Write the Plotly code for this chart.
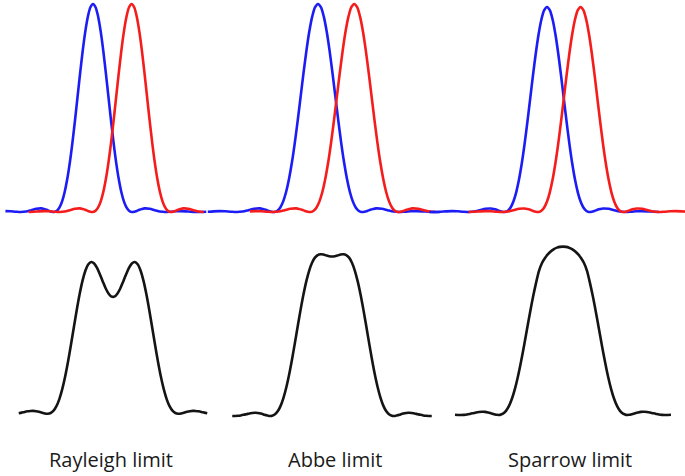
import plotly.graph_objects as go

# ---------------- data ----------------
# Single diffraction peak: relative intensity vs. offset from its centre (optical units)
PEAK_OFFSET = [-11.0, -10.5, -10.0, -9.5, -9.0, -8.5, -8.0, -7.5, -7.0, -6.5, -6.0, -5.5,
               -5.0, -4.75, -4.5, -4.25, -4.0, -3.75, -3.5, -3.25, -3.0, -2.75, -2.5, -2.25,
               -2.0, -1.75, -1.5, -1.25, -1.0, -0.75, -0.5, -0.25, 0.0,
               0.25, 0.5, 0.75, 1.0, 1.25, 1.5, 1.75, 2.0, 2.25, 2.5, 2.75, 3.0,
               3.25, 3.5, 3.75, 4.0, 4.25, 4.5, 4.75, 5.0, 5.5, 6.0, 6.5, 7.0,
               7.5, 8.0, 8.5, 9.0, 9.5, 10.0, 10.5, 11.0]
PEAK_INTENSITY = [0.0010, 0.0002, 0.0001, 0.0012, 0.0030, 0.0041, 0.0034, 0.0013, 0.0000, 0.0022, 0.0085, 0.0154,
                  0.0172, 0.0146, 0.0105, 0.0052, 0.0011, 0.0003, 0.0062, 0.0220, 0.0511, 0.0960, 0.1582, 0.2376,
                  0.3326, 0.4396, 0.5534, 0.6675, 0.7746, 0.8674, 0.9391, 0.9845, 1.0000,
                  0.9845, 0.9391, 0.8674, 0.7746, 0.6675, 0.5534, 0.4396, 0.3326, 0.2376, 0.1582, 0.0960, 0.0511,
                  0.0220, 0.0062, 0.0003, 0.0011, 0.0052, 0.0105, 0.0146, 0.0172, 0.0154, 0.0085, 0.0022, 0.0000,
                  0.0013, 0.0034, 0.0041, 0.0030, 0.0012, 0.0001, 0.0002, 0.0010]

LIMITS = ["Rayleigh limit", "Abbe limit", "Sparrow limit"]
SEPARATION = [3.75, 3.125, 3.0]          # distance between the blue and red peaks
BLUE_SPAN = [(-8.5, 11.0), (-9.5, 10.5), (-10.5, 10.0)]
RED_SPAN = [(-10.0, 7.0), (-9.0, 7.0), (-10.0, 10.0)]

# Summed (observed) profiles, position relative to the midpoint of the two peaks
RAYLEIGH_POS = [-8.125, -7.875, -7.625, -7.375, -7.125, -6.875, -6.625, -6.375, -6.125, -5.875, -5.625,
                -5.375, -5.125, -4.875, -4.625, -4.375, -4.125, -3.875, -3.625, -3.375, -3.125, -2.875,
                -2.625, -2.375, -2.125, -1.875, -1.625, -1.375, -1.125, -0.875, -0.625, -0.375, -0.125,
                0.125, 0.375, 0.625, 0.875, 1.125, 1.375, 1.625, 1.875, 2.125, 2.375, 2.625,
                2.875, 3.125, 3.375, 3.625, 3.875, 4.125, 4.375, 4.625, 4.875, 5.125, 5.375,
                5.625, 5.875, 6.125, 6.375, 6.625, 6.875, 7.125, 7.375, 7.625, 7.875, 8.125]
RAYLEIGH_SUM = [0.0052, 0.0090, 0.0137, 0.0175, 0.0201, 0.0208, 0.0187, 0.0145, 0.0086, 0.0036, 0.0016,
                0.0066, 0.0220, 0.0517, 0.0982, 0.1633, 0.2461, 0.3451, 0.4551, 0.5705, 0.6846, 0.7893,
                0.8777, 0.9446, 0.9852, 1.0003, 0.9903, 0.9614, 0.9183, 0.8707, 0.8256, 0.7910, 0.7723,
                0.7723, 0.7910, 0.8256, 0.8707, 0.9183, 0.9614, 0.9903, 1.0003, 0.9852, 0.9446, 0.8777,
                0.7893, 0.6846, 0.5705, 0.4551, 0.3451, 0.2461, 0.1633, 0.0982, 0.0517, 0.0220, 0.0066,
                0.0016, 0.0036, 0.0086, 0.0145, 0.0187, 0.0208, 0.0201, 0.0175, 0.0137, 0.0090, 0.0052]

ABBE_POS = [-8.75, -8.5, -8.25, -8.0, -7.75, -7.5, -7.25, -7.0, -6.75, -6.5, -6.25, -6.0, -5.75, -5.5,
            -5.25, -5.0, -4.75, -4.5, -4.25, -4.0, -3.75, -3.5, -3.25, -3.0, -2.75, -2.5, -2.25, -2.0,
            -1.75, -1.5, -1.25, -1.0, -0.75, -0.5, -0.25, 0.0, 0.25, 0.5, 0.75, 1.0, 1.25, 1.5, 1.75,
            2.0, 2.25, 2.5, 2.75, 3.0, 3.25, 3.5, 3.75, 4.0, 4.25, 4.5, 4.75, 5.0, 5.25, 5.5, 5.75,
            6.0, 6.25, 6.5, 6.75, 7.0, 7.25, 7.5, 7.75, 8.0, 8.25, 8.5, 8.75]
ABBE_SUM = [0.0004, 0.0001, 0.0012, 0.0038, 0.0077, 0.0122, 0.0168, 0.0199, 0.0211, 0.0201, 0.0162, 0.0106,
            0.0045, 0.0004, 0.0014, 0.0109, 0.0324, 0.0683, 0.1213, 0.1911, 0.2767, 0.3756, 0.4829, 0.5937,
            0.7016, 0.8012, 0.8875, 0.9571, 1.0084, 1.0417, 1.0590, 1.0644, 1.0621, 1.0564, 1.0513, 1.0493,
            1.0513, 1.0564, 1.0621, 1.0644, 1.0590, 1.0417, 1.0084, 0.9571, 0.8875, 0.8012, 0.7016, 0.5937,
            0.4829, 0.3756, 0.2767, 0.1911, 0.1213, 0.0683, 0.0324, 0.0109, 0.0014, 0.0004, 0.0045, 0.0106,
            0.0162, 0.0201, 0.0211, 0.0199, 0.0168, 0.0122, 0.0077, 0.0038, 0.0012, 0.0001, 0.0004]

SPARROW_POS = [-9.0, -8.75, -8.5, -8.25, -8.0, -7.75, -7.5, -7.25, -7.0, -6.75, -6.5, -6.25, -6.0, -5.75,
               -5.5, -5.25, -5.0, -4.75, -4.5, -4.25, -4.0, -3.75, -3.5, -3.25, -3.0, -2.75, -2.5, -2.25,
               -2.0, -1.75, -1.5, -1.25, -1.0, -0.75, -0.5, -0.25, 0.0, 0.25, 0.5, 0.75, 1.0, 1.25, 1.5,
               1.75, 2.0, 2.25, 2.5, 2.75, 3.0, 3.25, 3.5, 3.75, 4.0, 4.25, 4.5, 4.75, 5.0, 5.25, 5.5,
               5.75, 6.0, 6.25, 6.5, 6.75, 7.0, 7.25, 7.5, 7.75, 8.0, 8.25, 8.5, 8.75, 9.0]
SPARROW_SUM = [0.0015, 0.0004, 0.0001, 0.0011, 0.0034, 0.0072, 0.0115, 0.0162, 0.0195, 0.0211, 0.0206, 0.0171,
               0.0118, 0.0056, 0.0011, 0.0009, 0.0084, 0.0271, 0.0596, 0.1085, 0.1736, 0.2547, 0.3498, 0.4542,
               0.5639, 0.6727, 0.7757, 0.8677, 0.9480, 1.0000, 1.0330, 1.0580, 1.0780, 1.0920, 1.1010, 1.1060,
               1.1075, 1.1060, 1.1010, 1.0920, 1.0780, 1.0580, 1.0330, 1.0000, 0.9480, 0.8677, 0.7757, 0.6727,
               0.5639, 0.4542, 0.3498, 0.2547, 0.1736, 0.1085, 0.0596, 0.0271, 0.0084, 0.0009, 0.0011, 0.0056,
               0.0118, 0.0171, 0.0206, 0.0211, 0.0195, 0.0162, 0.0115, 0.0072, 0.0034, 0.0011, 0.0001, 0.0004,
               0.0015]

SUM_POS = [RAYLEIGH_POS, ABBE_POS, SPARROW_POS]
SUM_VAL = [RAYLEIGH_SUM, ABBE_SUM, SPARROW_SUM]

# ---------------- layout (pixel placement of each panel) ----------------
W, H = 685, 476
TOP_X = [(93, 10.3), (318, 11.6), (547, 11.2)]      # px of blue peak, px per unit
TOP_Y = [(212, 208), (212, 208), (212, 205)]        # px of baseline, px per unit intensity
BOT_X = [(113, 11.6), (332, 11.4), (563, 12.0)]     # px of midpoint, px per unit
BOT_Y = [(414, 152), (416, 152), (415, 152)]
LABEL_X = [111, 335, 570]
LABEL_Y = 459

BLUE = "rgb(28,28,245)"
RED = "rgb(245,28,28)"
BLACK = "rgb(20,20,20)"
LW = 2.6

fig = go.Figure()
layout_axes = {}


def add_axes(n, xpx, ypx):
    p, k = xpx
    b, u = ypx
    sx = "" if n == 1 else str(n)
    layout_axes["xaxis" + sx] = dict(domain=[0, 1], range=[-p / k, (W - p) / k], visible=False,
                                      anchor="y" + sx, fixedrange=True)
    layout_axes["yaxis" + sx] = dict(domain=[0, 1], range=[(b - H) / u, b / u], visible=False,
                                      anchor="x" + sx, fixedrange=True)
    return "x" + sx, "y" + sx


for i in range(3):
    xa, ya = add_axes(i + 1, TOP_X[i], TOP_Y[i])
    blo, bhi = BLUE_SPAN[i]
    bx = [d for d in PEAK_OFFSET if blo <= d <= bhi]
    by = [v for d, v in zip(PEAK_OFFSET, PEAK_INTENSITY) if blo <= d <= bhi]
    rlo, rhi = RED_SPAN[i]
    rx = [d + SEPARATION[i] for d in PEAK_OFFSET if rlo <= d <= rhi]
    ry = [v for d, v in zip(PEAK_OFFSET, PEAK_INTENSITY) if rlo <= d <= rhi]
    fig.add_trace(go.Scatter(x=bx, y=by, mode="lines", xaxis=xa, yaxis=ya,
                             line=dict(color=BLUE, width=LW, shape="spline", smoothing=0.8),
                             showlegend=False, hoverinfo="skip"))
    fig.add_trace(go.Scatter(x=rx, y=ry, mode="lines", xaxis=xa, yaxis=ya,
                             line=dict(color=RED, width=LW, shape="spline", smoothing=0.8),
                             showlegend=False, hoverinfo="skip"))

for i in range(3):
    xa, ya = add_axes(i + 4, BOT_X[i], BOT_Y[i])
    fig.add_trace(go.Scatter(x=SUM_POS[i], y=SUM_VAL[i], mode="lines", xaxis=xa, yaxis=ya,
                             line=dict(color=BLACK, width=LW, shape="spline", smoothing=0.8),
                             showlegend=False, hoverinfo="skip"))

annotations = []
for i, name in enumerate(LIMITS):
    annotations.append(dict(text=name, x=LABEL_X[i] / W, y=1 - LABEL_Y / H, xref="paper", yref="paper",
                            xanchor="center", yanchor="middle", showarrow=False,
                            font=dict(family="Open Sans, Lato, sans-serif", size=20, color="#1a1a1a")))

fig.update_layout(width=W, height=H, autosize=False, margin=dict(l=0, r=0, t=0, b=0),
                  paper_bgcolor="white", plot_bgcolor="rgba(0,0,0,0)",
                  annotations=annotations, **layout_axes)

fig.write_html("out.html", config={"displayModeBar": False},
               post_script="document.body.style.margin='0';document.body.style.overflow='hidden';")
